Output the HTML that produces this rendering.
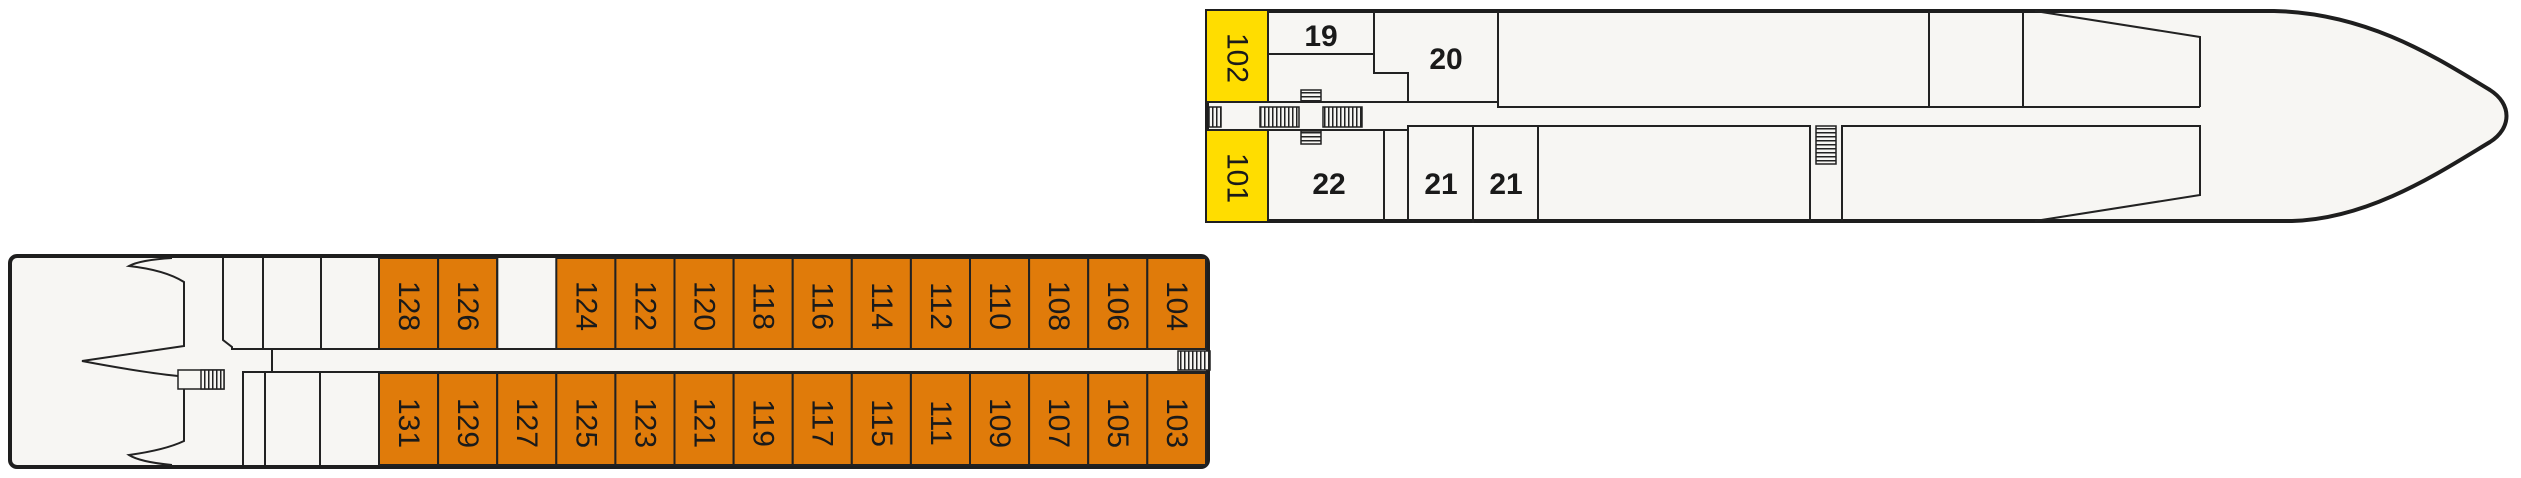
<!DOCTYPE html>
<html><head><meta charset="utf-8"><style>
html,body{margin:0;padding:0;background:#fff;}
svg{display:block;}
.n{font-family:"Liberation Sans",sans-serif;font-size:30px;fill:#1a1a1a;}
.b{font-family:"Liberation Sans",sans-serif;font-size:30px;font-weight:bold;fill:#1a1a1a;}
</style></head><body>
<svg width="2521" height="478" viewBox="0 0 2521 478" xmlns="http://www.w3.org/2000/svg">
<defs>
<pattern id="vh" width="4" height="10" patternUnits="userSpaceOnUse"><rect width="4" height="10" fill="#f7f6f3"/><rect width="1.5" height="10" fill="#222"/></pattern>
<pattern id="hh" width="10" height="4" patternUnits="userSpaceOnUse"><rect width="10" height="4" fill="#f7f6f3"/><rect width="10" height="1.5" fill="#222"/></pattern>
</defs>
<!-- UPPER DECK -->
<path d="M1207,11 L2274,11 C2370,13 2440,60 2490,90 C2512,104 2512,128 2490,142 C2440,172 2370,219 2292,221 L1207,221 Z" fill="#f7f6f3" stroke="#1e1e1e" stroke-width="4"/>
<rect x="1207" y="11" width="61" height="91" fill="#ffdd00"/>
<rect x="1207" y="131" width="61" height="90" fill="#ffdd00"/>
<g fill="none" stroke="#222" stroke-width="2">
<line x1="1268" y1="11" x2="1268" y2="102"/>
<line x1="1268" y1="131" x2="1268" y2="221"/>
<line x1="1207" y1="102" x2="1498" y2="102"/>
<line x1="1207" y1="130" x2="1408" y2="130"/>
<line x1="1268" y1="54" x2="1374" y2="54"/>
<polyline points="1374,11 1374,73 1408,73 1408,102"/>
<polyline points="1498,11 1498,107 2200,107"/>
<line x1="1929" y1="11" x2="1929" y2="107"/>
<line x1="2023" y1="11" x2="2023" y2="107"/>
<polyline points="2035,11 2200,37 2200,107"/>
<polyline points="1408,221 1408,126 1810,126 1810,221"/>
<line x1="1384" y1="130" x2="1384" y2="221"/>
<line x1="1473" y1="126" x2="1473" y2="223"/>
<line x1="1538" y1="126" x2="1538" y2="221"/>
<polyline points="1842,221 1842,126 2200,126 2200,195 2035,221"/>
</g>
<g stroke="#222" stroke-width="1.5">
<rect x="1209" y="107" width="12" height="20" fill="url(#vh)"/>
<rect x="1260" y="107" width="39" height="20" fill="url(#vh)"/>
<rect x="1323" y="107" width="39" height="20" fill="url(#vh)"/>
<rect x="1301" y="90" width="20" height="12" fill="url(#hh)"/>
<rect x="1301" y="131" width="20" height="13" fill="url(#hh)"/>
<rect x="1816" y="126" width="20" height="38" fill="url(#hh)"/>
</g>
<text class="n" transform="translate(1237,58) rotate(90)" text-anchor="middle" dominant-baseline="central">102</text>
<text class="n" transform="translate(1237,178) rotate(90)" text-anchor="middle" dominant-baseline="central">101</text>
<text class="b" x="1321" y="46" text-anchor="middle">19</text>
<text class="b" x="1446" y="69" text-anchor="middle">20</text>
<text class="b" x="1329" y="194" text-anchor="middle">22</text>
<text class="b" x="1441" y="194" text-anchor="middle">21</text>
<text class="b" x="1506" y="194" text-anchor="middle">21</text>
<!-- LOWER DECK -->
<rect x="10" y="256" width="1198" height="211" rx="7" fill="#f7f6f3" stroke="#1e1e1e" stroke-width="4"/>
<g fill="#e07b0a" stroke="#222" stroke-width="2">
<rect x="379" y="258" width="59.1" height="91"/><rect x="438.1" y="258" width="59.1" height="91"/>
<rect x="556.3" y="258" width="59.1" height="91"/><rect x="615.4" y="258" width="59.1" height="91"/>
<rect x="674.5" y="258" width="59.1" height="91"/><rect x="733.6" y="258" width="59.1" height="91"/>
<rect x="792.7" y="258" width="59.1" height="91"/><rect x="851.8" y="258" width="59.1" height="91"/>
<rect x="910.9" y="258" width="59.1" height="91"/><rect x="970" y="258" width="59.1" height="91"/>
<rect x="1029.1" y="258" width="59.1" height="91"/><rect x="1088.2" y="258" width="59.1" height="91"/>
<rect x="1147.3" y="258" width="58.7" height="91"/>
<rect x="379" y="373" width="59.1" height="92"/><rect x="438.1" y="373" width="59.1" height="92"/>
<rect x="497.2" y="373" width="59.1" height="92"/><rect x="556.3" y="373" width="59.1" height="92"/>
<rect x="615.4" y="373" width="59.1" height="92"/><rect x="674.5" y="373" width="59.1" height="92"/>
<rect x="733.6" y="373" width="59.1" height="92"/><rect x="792.7" y="373" width="59.1" height="92"/>
<rect x="851.8" y="373" width="59.1" height="92"/><rect x="910.9" y="373" width="59.1" height="92"/>
<rect x="970" y="373" width="59.1" height="92"/><rect x="1029.1" y="373" width="59.1" height="92"/>
<rect x="1088.2" y="373" width="59.1" height="92"/><rect x="1147.3" y="373" width="58.7" height="92"/>
</g>
<g fill="none" stroke="#222" stroke-width="2">
<line x1="497.2" y1="258" x2="497.2" y2="349"/>
<polyline points="223,258 223,340 232,347 232,349 1206,349"/>
<line x1="263" y1="258" x2="263" y2="349"/>
<line x1="321" y1="258" x2="321" y2="349"/>
<line x1="272" y1="349" x2="272" y2="372"/>
<polyline points="243,465 243,372 1206,372"/>
<line x1="265" y1="372" x2="265" y2="465"/>
<line x1="320" y1="372" x2="320" y2="465"/>
<path d="M172,258 Q140,260 129,266 Q165,270 184,282 L184,346 L82,361 Q140,372 178,376"/>
<path d="M184,389 L184,441 Q165,450 129,455 Q140,462 172,465"/>
</g>
<g stroke="#222" stroke-width="1.5">
<rect x="178" y="370" width="46" height="19" fill="#f7f6f3"/>
<rect x="201" y="370" width="23" height="19" fill="url(#vh)"/>
<rect x="1178" y="351" width="32" height="19" fill="url(#vh)"/>
</g>
<g class="n" text-anchor="middle" dominant-baseline="central">
<text transform="translate(408.5,306) rotate(90)">128</text>
<text transform="translate(467.6,306) rotate(90)">126</text>
<text transform="translate(585.8,306) rotate(90)">124</text>
<text transform="translate(644.9,306) rotate(90)">122</text>
<text transform="translate(704,306) rotate(90)">120</text>
<text transform="translate(763.1,306) rotate(90)">118</text>
<text transform="translate(822.2,306) rotate(90)">116</text>
<text transform="translate(881.3,306) rotate(90)">114</text>
<text transform="translate(940.4,306) rotate(90)">112</text>
<text transform="translate(999.5,306) rotate(90)">110</text>
<text transform="translate(1058.6,306) rotate(90)">108</text>
<text transform="translate(1117.7,306) rotate(90)">106</text>
<text transform="translate(1176.6,306) rotate(90)">104</text>
<text transform="translate(408.5,423) rotate(90)">131</text>
<text transform="translate(467.6,423) rotate(90)">129</text>
<text transform="translate(526.7,423) rotate(90)">127</text>
<text transform="translate(585.8,423) rotate(90)">125</text>
<text transform="translate(644.9,423) rotate(90)">123</text>
<text transform="translate(704,423) rotate(90)">121</text>
<text transform="translate(763.1,423) rotate(90)">119</text>
<text transform="translate(822.2,423) rotate(90)">117</text>
<text transform="translate(881.3,423) rotate(90)">115</text>
<text transform="translate(940.4,423) rotate(90)">111</text>
<text transform="translate(999.5,423) rotate(90)">109</text>
<text transform="translate(1058.6,423) rotate(90)">107</text>
<text transform="translate(1117.7,423) rotate(90)">105</text>
<text transform="translate(1176.6,423) rotate(90)">103</text>
</g>
</svg>
</body></html>
